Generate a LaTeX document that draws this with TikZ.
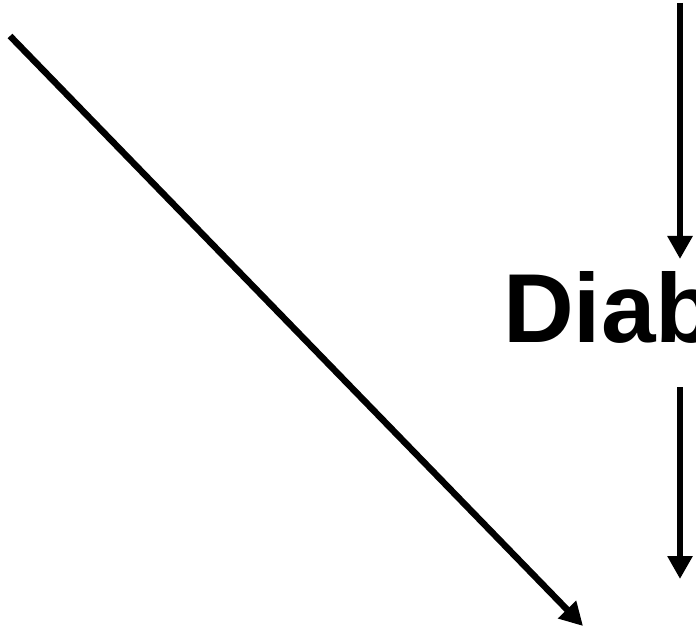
\documentclass[tikz,border=0pt]{standalone}
\usepackage{fontspec}
\setmainfont{Liberation Sans}
\usetikzlibrary{arrows.meta}
\begin{document}
\begin{tikzpicture}[x=1pt,y=-1pt,
  arr/.style={line width=6.5pt,-{Triangle[length=23pt,width=24pt]}}]
\useasboundingbox (0,0) rectangle (696,631);
\clip (0,0) rectangle (696,631);
\coordinate (d1) at (10,36);
\coordinate (d2) at (583,626);
\coordinate (v1a) at (680,3);
\coordinate (v1b) at (680,259);
\coordinate (v2a) at (680,387);
\coordinate (v2b) at (680,579);
\node[anchor=base west,inner sep=0pt,font=\fontsize{98}{98}\selectfont\bfseries] (t) at (503,342) {Diab};
\draw[arr] (d1) -- (d2);
\draw[arr] (v1a) -- (v1b);
\draw[arr] (v2a) -- (v2b);
\end{tikzpicture}
\end{document}
